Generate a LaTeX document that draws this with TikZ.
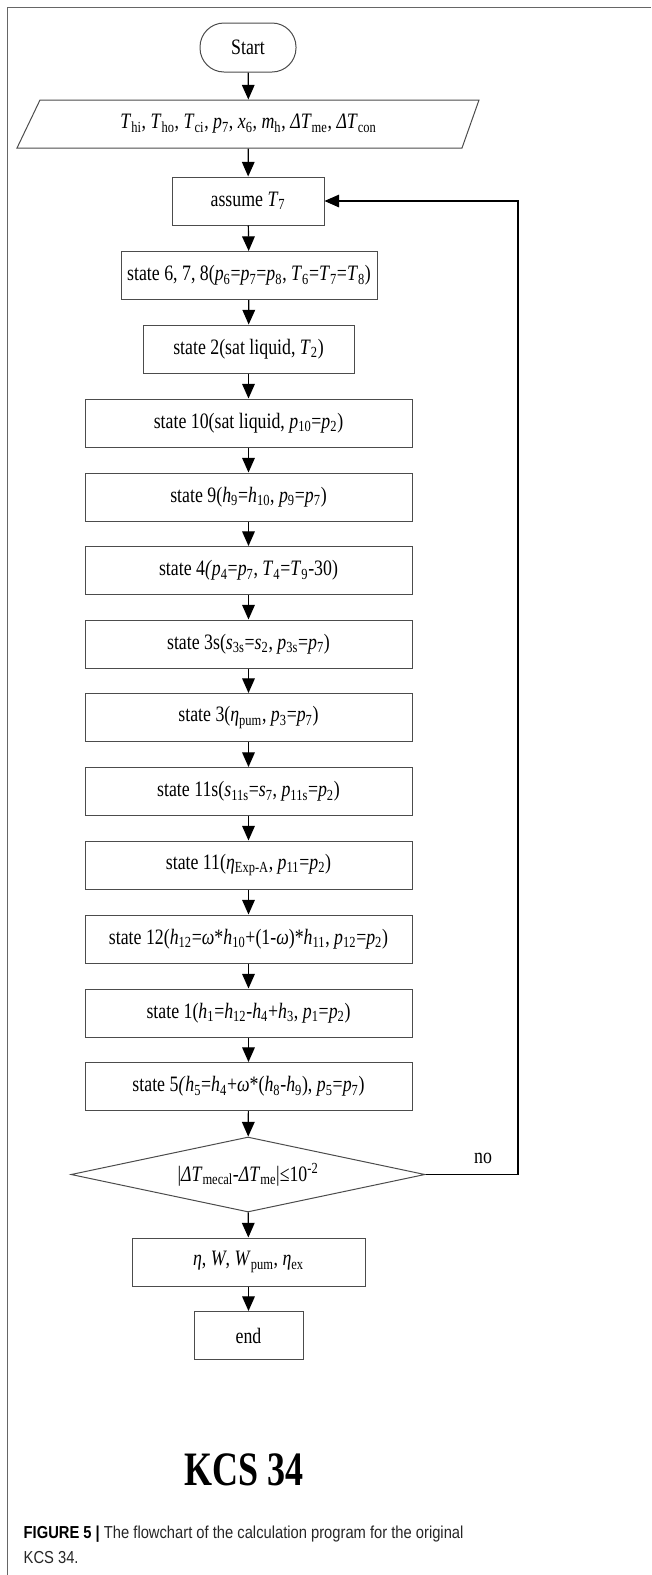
\documentclass[tikz,border=0pt]{standalone}
\usepackage{fontspec}
\setmainfont[FakeStretch=0.81]{Liberation Serif}
\setsansfont[FakeStretch=0.85]{Liberation Sans}
\newfontfamily\kcsfont[FakeStretch=0.75]{Liberation Serif}
\usetikzlibrary{arrows.meta,shapes.geometric}
\newcommand\vsub[2]{\textit{#1}\textsubscript{#2}}

\begin{document}
\begin{tikzpicture}[x=0.75pt,y=-0.75pt,
		box/.style={draw=black!70,line width=0.75pt,minimum height=36pt,inner sep=2pt,font=\fontsize{16.5}{19}\selectfont},
		wide/.style={box,minimum width=245.25pt},
		arr/.style={-{Triangle[length=11pt,width=9.5pt]},line width=0.9pt}]
			\useasboundingbox (0,0) rectangle (651,1575);
			\draw [black!60] (7,1575) -- (7,7) -- (651,7);

			\node[box,rounded corners=18pt,minimum width=72pt,minimum height=36.75pt] (start) at (248,47.5) {Start};
			\draw [black!70,line width=0.75pt] (17,148) -- (40,100) -- (479,100) -- (462,148) -- cycle;
			\node[box,draw=none] (in) at (248.5,124) {\vsub{T}{hi}, \vsub{T}{ho}, \vsub{T}{ci}, \vsub{p}{7}, \vsub{x}{6}, \vsub{m}{h}, \vsub{ΔT}{me}, \vsub{ΔT}{con}};
			\node[box,minimum width=114pt] (assume) at (248,201) {assume \vsub{T}{7}};
			\node[box,minimum width=192pt] (s678) at (249,275.5) {state 6, 7, 8(\vsub{p}{6}=\vsub{p}{7}=\vsub{p}{8}, \vsub{T}{6}=\vsub{T}{7}=\vsub{T}{8})};
			\node[box,minimum width=158.25pt] (s2) at (248.5,349) {state 2(sat liquid, \vsub{T}{2})};
			\node[wide] (s10) at (248.5,423) {state 10(sat liquid, \vsub{p}{10}=\vsub{p}{2})};
			\node[wide] (s9) at (248.5,497) {state 9(\vsub{h}{9}=\vsub{h}{10}, \vsub{p}{9}=\vsub{p}{7})};
			\node[wide] (s4) at (248.5,570.5) {state 4\textit{(}\vsub{p}{4}=\vsub{p}{7}, \vsub{T}{4}=\vsub{T}{9}-30)};
			\node[wide] (s3s) at (248.5,644) {state 3s(\vsub{s}{3s}=\vsub{s}{2}, \vsub{p}{3s}=\vsub{p}{7})};
			\node[wide] (s3) at (248.5,717.5) {state 3(\vsub{η}{pum}, \vsub{p}{3}=\vsub{p}{7})};
			\node[wide] (s11s) at (248.5,791.5) {state 11s(\vsub{s}{11s}=\vsub{s}{7}, \vsub{p}{11s}=\vsub{p}{2})};
			\node[wide] (s11) at (248.5,865) {state 11(\vsub{η}{Exp-A}, \vsub{p}{11}=\vsub{p}{2})};
			\node[wide] (s12) at (248.5,939) {state 12(\vsub{h}{12}=\textit{ω}*\vsub{h}{10}+(1-\textit{ω})*\vsub{h}{11}, \vsub{p}{12}=\vsub{p}{2})};
			\node[wide] (s1) at (248.5,1013) {state 1(\vsub{h}{1}=\vsub{h}{12}-\vsub{h}{4}+\vsub{h}{3}, \vsub{p}{1}=\vsub{p}{2})};
			\node[wide] (s5) at (248.5,1086.5) {state 5\textit{(}\vsub{h}{5}=\vsub{h}{4}+\textit{ω}*(\vsub{h}{8}-\vsub{h}{9}), \vsub{p}{5}=\vsub{p}{7})};
			\node[box,diamond,aspect=4.7,inner sep=1pt,minimum width=265.5pt,minimum height=56.25pt] (check) at (248,1174.5) {|\vsub{ΔT}{mecal}-\vsub{ΔT}{me}|≤10\textsuperscript{-2}};
			\node[box,minimum width=174.75pt] (out) at (248.5,1262) {\textit{η}, \textit{W}, \vsub{W}{pum}, \vsub{η}{ex}};
			\node[box,minimum width=81.75pt] (end) at (248.5,1335.5) {end};

			\node[font=\fontsize{16.5}{19}\selectfont] (no) at (483,1158) {no};
			\coordinate (loop) at (518,1174.5);

			\foreach \a/\b in {start/in,in/assume,assume/s678,s678/s2,s2/s10,s10/s9,s9/s4,s4/s3s,s3s/s3,s3/s11s,s11s/s11,s11/s12,s12/s1,s1/s5,s5/check,check/out,out/end}
				\draw[arr] (\a) -- (\b);
			\draw[arr] (check.east) -- (loop) |- (assume.east);

			\node[font=\kcsfont\bfseries\fontsize{36}{40}\selectfont] (kcs) at (244,1470) {KCS 34};
			\node[anchor=base west,font=\sffamily\fontsize{13}{15}\selectfont,text=black!85] (cap1) at (19,1538) {\textbf{\color{black}FIGURE 5 |} The flowchart of the calculation program for the original};
			\node[anchor=base west,font=\sffamily\fontsize{13}{15}\selectfont,text=black!85] (cap2) at (19,1563) {KCS 34.};
		\end{tikzpicture}
\end{document}
